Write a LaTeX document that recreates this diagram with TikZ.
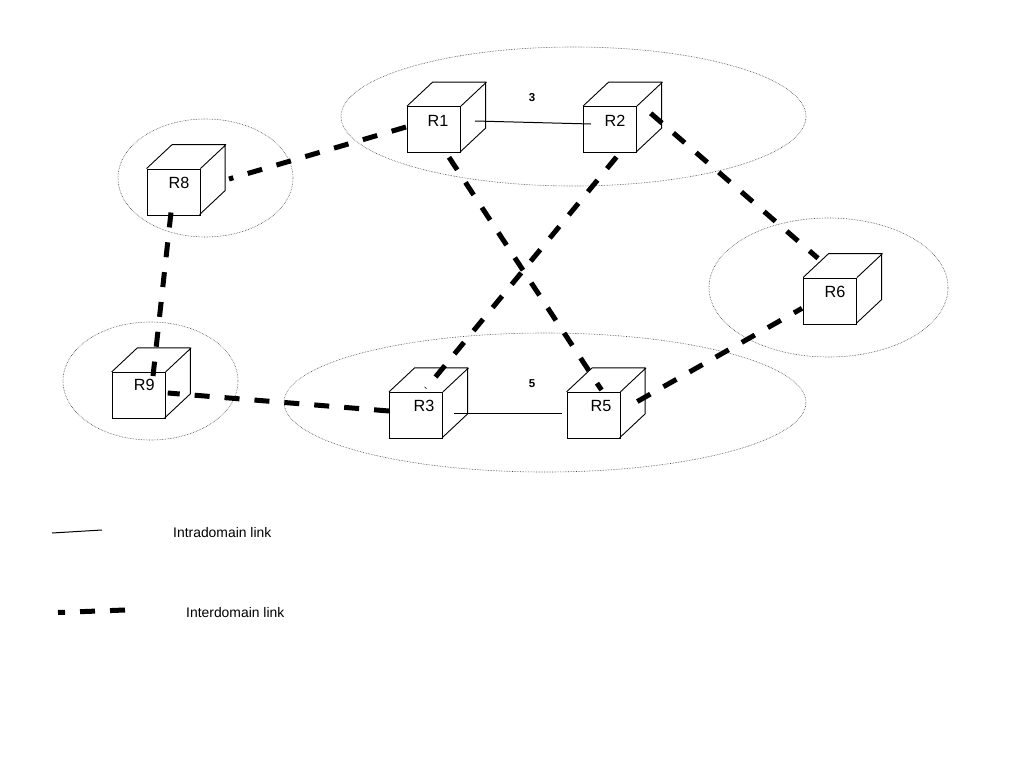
\documentclass[tikz,border=0pt]{standalone}
\usepackage{fontspec}
\setmainfont{Liberation Sans}
\usetikzlibrary{shapes.geometric,calc,positioning}
\tikzset{
    x=1pt,y=-1pt,
    router/.style = {rectangle, draw, line width=0.9pt, inner sep=0pt, minimum width=53pt, minimum height=46pt,
        append after command={\pgfextra{\draw[line width=0.9pt,line join=round]
            (\tikzlastnode.north west) -- ++(25.6,-24) -- ++(53,0) -- ++(0,46) -- ++(-25.6,24)
            (\tikzlastnode.north east) -- ++(25.6,-24);}}},
    every label/.style = {font=\fontsize{16.2}{18}\selectfont},
    zone/.style = {ellipse, draw=black!75, line width=0.6pt, densely dotted, inner sep=0pt},
    intra/.style = {line width=1pt},
    inter/.style = {line width=5pt, dash pattern=on 15pt off 15pt},
    zonelabel/.style = {font=\fontsize{11.5}{13}\selectfont\bfseries},
    keylabel/.style = {font=\fontsize{13.9}{16}\selectfont, anchor=west, inner sep=0pt}
}
\begin{document}
\begin{tikzpicture}
    \useasboundingbox (0,0) rectangle (1024,768);
    % domains
    \node[zone, minimum width=465pt, minimum height=139pt] (dom3) at (573.5,116.5) {};
    \node[zone, minimum width=522pt, minimum height=139pt] (dom5) at (545,402.5) {};
    \node[zone, minimum width=175pt, minimum height=118pt] (dom8) at (205.5,178) {};
    \node[zone, minimum width=175pt, minimum height=118pt] (dom9) at (150.5,381) {};
    \node[zone, minimum width=239pt, minimum height=139pt] (dom6) at (828.5,287.5) {};
    \node[zonelabel] (num3) at (532,98) {3};
    \node[zonelabel] (num5) at (532,384) {5};

    % routers
    \node[router, label={[xshift=4pt,yshift=8.5pt]center:R1}] (R1) at (434,129.5) {};
    \node[router, label={[xshift=5pt,yshift=8.5pt]center:R2}] (R2) at (610,129.5) {};
    \node[router, label={[xshift=8pt,yshift=9pt]center:R3}] (R3) at (416,415.3) {};
    \node[router, label={[xshift=7.5pt,yshift=9pt]center:R5}] (R5) at (593.5,415.3) {};
    \node[router, label={[xshift=5pt,yshift=9pt]center:R6}] (R6) at (830,301) {};
    \node[router, label={[xshift=5.5pt,yshift=9pt]center:R8}] (R8) at (173.5,192) {};
    \node[router, label={[xshift=5.5pt,yshift=10pt]center:R9}] (R9) at (138.7,395.3) {};

    % intradomain links
    \draw[intra] ($(R1)+(41,-8.5)$) -- ($(R2)+(-19,-5.5)$);
    \draw[intra] ($(R3)+(38,-2.3)$) -- ($(R5)+(-31.5,-2.3)$);
    \draw[line width=0.5pt] ($(R3)+(8.5,-28.5)$) -- ++(2,2);

    % interdomain links
    \draw[inter] ($(R1)+(-28,-2.5)$) -- ($(R8)+(55.5,-13)$);
    \draw[inter] ($(R8)+(-2.5,20.5)$) -- ($(R9)+(14.3,-19.3)$);
    \draw[inter] ($(R3)+(-27,-4.3)$) -- ($(R9)+(29,-2.3)$);
    \draw[inter] ($(R1)+(15,27.8)$) -- ($(R5)+(8,-25.3)$);
    \draw[inter] ($(R2)+(6.5,27.5)$) -- ($(R3)+(19.5,-38.3)$);
    \draw[inter] ($(R2)+(40.7,-16.2)$) -- ($(R6)+(-12,-42.7)$);
    \draw[inter] ($(R5)+(43.8,-13.8)$) -- ($(R6)+(-28,7.3)$);

    % legend
    \coordinate (intra1) at (52,533);
    \coordinate (intra2) at (102,530);
    \coordinate (inter1) at (58,612.5);
    \coordinate (inter2) at (125,610);
    \draw[intra] (intra1) -- (intra2);
    \draw[inter] (inter2) -- (inter1);
    \node[keylabel] (intralabel) at (173,533) {Intradomain link};
    \node[keylabel] (interlabel) at (186,613) {Interdomain link};
\end{tikzpicture}
\end{document}
